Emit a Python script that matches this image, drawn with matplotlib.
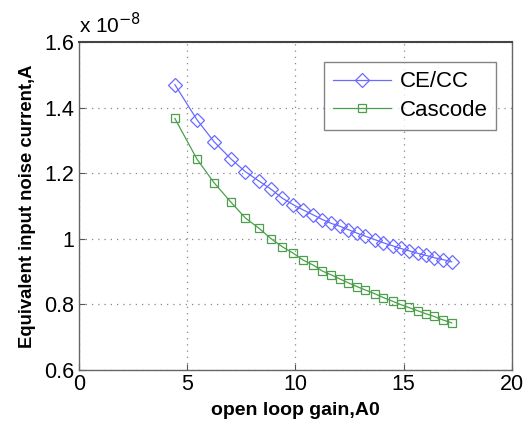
import matplotlib
matplotlib.use('Agg')
import matplotlib.pyplot as plt

# Open loop gain A0 at each simulated point
gain = [4.44, 5.46, 6.25, 7.04, 7.69, 8.33, 8.89, 9.40, 9.91, 10.37, 10.83, 11.25,
        11.67, 12.08, 12.45, 12.87, 13.24, 13.66, 14.07, 14.49, 14.86, 15.23, 15.65,
        16.02, 16.39, 16.81, 17.22]

# Equivalent input noise current, in units of 1e-8 A
noise_cecc = [1.470, 1.363, 1.296, 1.243, 1.205, 1.176, 1.151, 1.124, 1.104, 1.088,
              1.073, 1.059, 1.047, 1.038, 1.028, 1.017, 1.008, 0.998, 0.988, 0.979,
              0.971, 0.964, 0.956, 0.950, 0.943, 0.937, 0.930]
noise_cascode = [1.367, 1.243, 1.171, 1.111, 1.064, 1.032, 1.000, 0.976, 0.956, 0.935,
                 0.920, 0.902, 0.890, 0.877, 0.866, 0.854, 0.844, 0.833, 0.821, 0.810,
                 0.800, 0.791, 0.781, 0.772, 0.764, 0.753, 0.744]

xticks = [0, 5, 10, 15, 20]
yticks = [0.6, 0.8, 1.0, 1.2, 1.4, 1.6]
ytick_labels = ['0.6', '0.8', '1', '1.2', '1.4', '1.6']

plt.rcParams['font.family'] = ['Liberation Sans', 'DejaVu Sans']

fig = plt.figure(figsize=(5.25, 4.38), dpi=100)
ax = fig.add_axes([0.150, 0.155, 0.825, 0.749])

ax.plot(gain, noise_cecc, color='#6a6aff', lw=0.9, marker='D', markersize=7,
        markerfacecolor='none', markeredgecolor='#6a6aff', markeredgewidth=0.9,
        label='CE/CC')
ax.plot(gain, noise_cascode, color='#4c9f4c', lw=0.9, marker='s', markersize=6,
        markerfacecolor='none', markeredgecolor='#4c9f4c', markeredgewidth=0.9,
        label='Cascode')

ax.set_xlim(0, 20)
ax.set_ylim(0.6, 1.6)
ax.set_xticks(xticks)
ax.set_yticks(yticks)
ax.set_yticklabels(ytick_labels)
ax.tick_params(direction='in', labelsize=15.5, length=4, color='#555555', pad=3)
ax.grid(True, linestyle=(0, (1, 4)), color='#888888', lw=0.9)

for side in ['top', 'right', 'left', 'bottom']:
    ax.spines[side].set_color('#666666')
    ax.spines[side].set_linewidth(1.0)
ax.spines['top'].set_color('#444444')
ax.spines['top'].set_linewidth(1.5)

ax.set_xlabel('open loop gain,A0', fontsize=14, fontweight='bold', labelpad=5)
ax.set_ylabel('Equivalent input noise current,A', fontsize=13.3, fontweight='bold',
              labelpad=6)

ax.text(0.0, 1.015, r'x 10$^{-8}$', transform=ax.transAxes, fontsize=15,
        ha='left', va='bottom')

leg = ax.legend(loc='upper right', fontsize=16, frameon=True, fancybox=False,
                edgecolor='#666666', handlelength=2.6, borderaxespad=0.4,
                borderpad=0.4, labelspacing=0.35, handletextpad=0.4,
                bbox_to_anchor=(0.985, 0.965))
leg.get_frame().set_linewidth(1.0)

fig.savefig('out.png', dpi=100)
